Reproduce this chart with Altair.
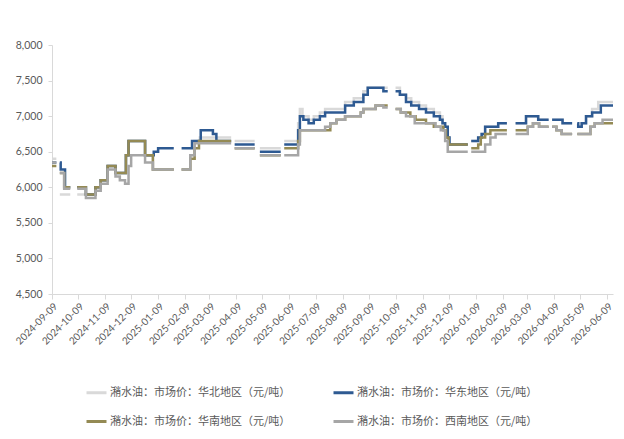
import altair as alt
import pandas as pd

names = [
    "潲水油：市场价：华北地区（元/吨）",
    "潲水油：市场价：华东地区（元/吨）",
    "潲水油：市场价：华南地区（元/吨）",
    "潲水油：市场价：西南地区（元/吨）",
]
colors = ["#D9D9D9", "#2E5A92", "#948A54", "#A6A6A6"]
# legend fills column by column: 华北, 华南 | 华东, 西南
legend_order = [names[0], names[2], names[1], names[3]]
legend_colors = [colors[0], colors[2], colors[1], colors[3]]

# holiday gaps (no quotes), inclusive
holidays = [
    ("2024-09-15", "2024-09-17"), ("2024-10-01", "2024-10-07"),
    ("2025-01-28", "2025-02-04"), ("2025-04-04", "2025-04-06"),
    ("2025-05-01", "2025-05-05"), ("2025-05-31", "2025-06-02"),
    ("2025-10-01", "2025-10-08"), ("2026-01-01", "2026-01-03"),
    ("2026-02-15", "2026-02-23"), ("2026-04-04", "2026-04-06"),
    ("2026-05-01", "2026-05-05"),
]
end_date = "2026-06-16"

# 华北
hb_dates = ["2024-09-09", "2024-09-18", "2024-10-29", "2024-11-04", "2024-11-12", "2024-11-21",
            "2024-12-03", "2024-12-06", "2024-12-25", "2025-01-03", "2025-02-15", "2025-02-20",
            "2025-02-26", "2025-04-07", "2025-05-06", "2025-06-03", "2025-06-19", "2025-06-21",
            "2025-06-24", "2025-07-01", "2025-07-07", "2025-07-14", "2025-07-20", "2025-08-12",
            "2025-08-22", "2025-09-02", "2025-09-07", "2025-10-14", "2025-10-21", "2025-10-27",
            "2025-11-05", "2025-11-13", "2025-11-22", "2025-11-29", "2025-12-02", "2025-12-05",
            "2025-12-08", "2025-12-10", "2026-01-04", "2026-01-12", "2026-01-16", "2026-01-20",
            "2026-02-04", "2026-03-08", "2026-03-22", "2026-04-19", "2026-05-07", "2026-05-11",
            "2026-05-16", "2026-05-23", "2026-05-30"]
hb_vals = [6400, 5900, 6000, 6100, 6300, 6200,
           6450, 6650, 6450, 6250, 6450, 6650,
           6700, 6650, 6550, 6650, 6900, 7100,
           7000, 6950, 7000, 7050, 7100, 7200,
           7250, 7350, 7400, 7300, 7250, 7200,
           7150, 7100, 7050, 7000, 6900, 6850,
           6700, 6600, 6650, 6700, 6750, 6850,
           6900, 7000, 6950, 6900, 6850, 6900,
           7000, 7100, 7200]

# 华东
hd_dates = ["2024-09-09", "2024-09-19", "2024-09-24", "2024-10-18", "2024-10-29", "2024-11-04",
            "2024-11-12", "2024-11-21", "2024-12-03", "2024-12-06", "2024-12-25", "2025-01-04",
            "2025-01-09", "2025-02-17", "2025-02-27", "2025-03-13", "2025-03-17", "2025-04-07",
            "2025-05-06", "2025-06-03", "2025-06-19", "2025-06-21", "2025-06-25", "2025-07-01",
            "2025-07-07", "2025-07-14", "2025-07-20", "2025-08-12", "2025-08-22", "2025-09-02",
            "2025-09-07", "2025-09-25", "2025-10-14", "2025-10-21", "2025-10-27", "2025-11-05",
            "2025-11-13", "2025-11-22", "2025-11-29", "2025-12-02", "2025-12-05", "2025-12-08",
            "2025-12-10", "2026-01-04", "2026-01-12", "2026-01-16", "2026-01-20", "2026-02-04",
            "2026-03-08", "2026-03-22", "2026-04-19", "2026-05-07", "2026-05-11", "2026-05-16",
            "2026-05-23", "2026-06-02"]
hd_vals = [6350, 6250, 6000, 5900, 6000, 6100,
           6300, 6200, 6450, 6650, 6450, 6500,
           6550, 6650, 6800, 6750, 6650, 6600,
           6500, 6600, 6800, 7000, 6950, 6900,
           6950, 7000, 7050, 7150, 7200, 7300,
           7400, 7350, 7300, 7200, 7150, 7100,
           7050, 7000, 6950, 6900, 6850, 6700,
           6600, 6650, 6700, 6750, 6850, 6900,
           7000, 6950, 6900, 6850, 6900, 7000,
           7050, 7150]

# 华南
hn_dates = ["2024-09-09", "2024-09-18", "2024-09-23", "2024-10-18", "2024-10-29", "2024-11-04",
            "2024-11-12", "2024-11-21", "2024-12-03", "2024-12-06", "2024-12-25", "2025-01-03",
            "2025-02-15", "2025-02-20", "2025-02-25", "2025-04-07", "2025-05-06", "2025-06-03",
            "2025-06-19", "2025-06-21", "2025-07-26", "2025-08-02", "2025-08-12", "2025-08-30",
            "2025-09-02", "2025-09-16", "2025-10-09", "2025-10-15", "2025-10-26", "2025-11-01",
            "2025-11-13", "2025-11-22", "2025-12-03", "2025-12-06", "2025-12-09", "2026-01-04",
            "2026-01-12", "2026-01-15", "2026-01-20", "2026-01-26", "2026-03-10", "2026-03-16",
            "2026-03-23", "2026-04-12", "2026-04-18", "2026-05-21", "2026-05-26"]
hn_vals = [6300, 6200, 6000, 5900, 6000, 6100,
           6300, 6200, 6450, 6650, 6450, 6250,
           6400, 6550, 6650, 6550, 6450, 6550,
           6650, 6800, 6900, 6950, 7000, 7050,
           7100, 7150, 7100, 7050, 7000, 6950,
           6900, 6850, 6800, 6700, 6600, 6550,
           6600, 6700, 6750, 6800, 6850, 6900,
           6850, 6800, 6750, 6850, 6900]

# 西南
xn_dates = ["2024-09-09", "2024-09-18", "2024-09-23", "2024-10-18", "2024-10-29", "2024-11-04",
            "2024-11-12", "2024-11-21", "2024-11-26", "2024-12-02", "2024-12-06", "2024-12-09",
            "2024-12-25", "2025-01-03", "2025-02-15", "2025-02-20", "2025-04-07", "2025-05-06",
            "2025-06-19", "2025-06-21", "2025-07-20", "2025-07-26", "2025-08-02", "2025-08-12",
            "2025-08-30", "2025-09-02", "2025-09-16", "2025-09-25", "2025-10-09", "2025-10-15",
            "2025-10-21", "2025-10-31", "2025-11-24", "2025-11-30", "2025-12-05", "2025-12-08",
            "2026-01-20", "2026-01-26", "2026-02-01", "2026-03-10", "2026-03-16", "2026-03-23",
            "2026-04-12", "2026-04-18", "2026-05-21", "2026-05-26", "2026-06-04"]
xn_vals = [6350, 6200, 5980, 5850, 5950, 6050,
           6250, 6150, 6100, 6050, 6300, 6450,
           6350, 6250, 6450, 6620, 6550, 6450,
           6600, 6800, 6850, 6900, 6950, 7000,
           7050, 7100, 7150, 7120, 7100, 7050,
           7000, 6900, 6850, 6800, 6650, 6500,
           6600, 6700, 6750, 6850, 6900, 6850,
           6800, 6750, 6850, 6900, 6950]

series = [(names[0], hb_dates, hb_vals), (names[1], hd_dates, hd_vals),
          (names[2], hn_dates, hn_vals), (names[3], xn_dates, xn_vals)]


def build(name, dates, vals):
    pts = sorted(zip(pd.to_datetime(dates), vals))

    def value_at(d):
        v = None
        for dd, vv in pts:
            if dd <= d:
                v = vv
        return v

    extra = []
    for hs, he in holidays:
        hs = pd.Timestamp(hs)
        he = pd.Timestamp(he)
        extra.append((hs - pd.Timedelta(days=1), value_at(hs - pd.Timedelta(days=1))))
        extra.append((hs, None))
        extra.append((he + pd.Timedelta(days=1), value_at(he + pd.Timedelta(days=1))))
    extra.append((pd.Timestamp(end_date), pts[-1][1]))
    allp = {}
    for d, v in pts + extra:
        if d not in allp or v is None:
            allp[d] = v
    rows = [{"date": d.strftime("%Y-%m-%dT00:00:00"), "value": v, "series": name}
            for d, v in sorted(allp.items())]
    return rows


rows = []
for n, d, v in series:
    rows += build(n, d, v)
df = pd.DataFrame(rows)

tick_values = []
y, m = 2024, 9
while (y, m) <= (2026, 6):
    tick_values.append(alt.DateTime(year=y, month=m, date=9))
    m += 1
    if m > 12:
        m = 1
        y += 1

label_font = "Lato"
txt = "#595959"
axis_col = "#D9D9D9"

x_enc = alt.X(
    "date:T",
    scale=alt.Scale(domain=[alt.DateTime(year=2024, month=9, date=9),
                            alt.DateTime(year=2026, month=6, date=16)], nice=False),
    axis=alt.Axis(values=tick_values, format="%Y-%m-%d", labelAngle=-45, title=None,
                  grid=False, labelFont=label_font, labelFontSize=10, labelColor=txt,
                  domainColor=axis_col, tickColor=axis_col, tickSize=5, labelPadding=2,
                  labelOverlap=False),
)
y_enc = alt.Y(
    "value:Q",
    scale=alt.Scale(domain=[4500, 8000], nice=False, zero=False),
    axis=alt.Axis(values=list(range(4500, 8001, 500)), format=",.0f", title=None, grid=False,
                  labelFont=label_font, labelFontSize=10.5, labelColor=txt,
                  domainColor=axis_col, tickColor=axis_col, tickSize=4, labelPadding=6),
)
color_enc = alt.Color(
    "series:N",
    scale=alt.Scale(domain=legend_order, range=legend_colors),
    legend=alt.Legend(title=None, orient="none", legendX=33, legendY=336, columns=2,
                      symbolType="stroke", symbolSize=400, symbolStrokeWidth=3,
                      labelFont="Noto Sans CJK SC", labelFontSize=11, labelColor=txt,
                      labelLimit=400, columnPadding=36, rowPadding=11, labelOffset=2),
)

base = alt.Chart(df).mark_line(strokeWidth=2.5, interpolate="step-after",
                               invalid="break-paths-show-domains").encode(
    x=x_enc, y=y_enc, color=color_enc)

layers = [base.transform_filter(alt.datum.series == n) for n in names]

chart = alt.layer(*layers).properties(
    width=561, height=249,
    autosize=alt.AutoSizeParams(type="none"),
    padding={"left": 44, "top": 37, "right": 3, "bottom": 137},
).configure_view(stroke=None)

chart.save("out.html", embed_options={"renderer": "svg", "actions": False})
